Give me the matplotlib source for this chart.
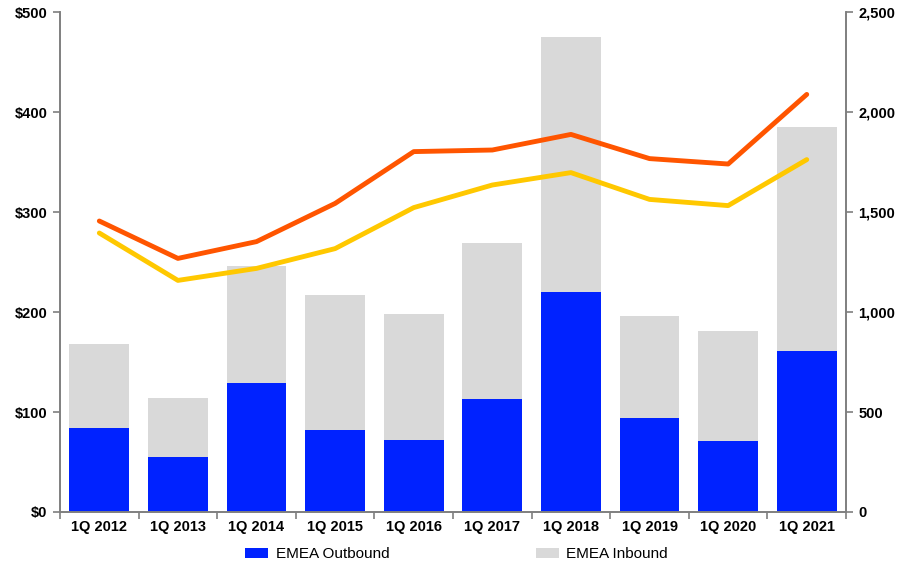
import matplotlib.pyplot as plt
import numpy as np

plt.rcParams['font.family'] = ['Liberation Sans', 'DejaVu Sans']

# values
quarters = ["1Q 2012", "1Q 2013", "1Q 2014", "1Q 2015", "1Q 2016",
            "1Q 2017", "1Q 2018", "1Q 2019", "1Q 2020", "1Q 2021"]
outbound = [84, 55, 129, 82, 72, 113, 220, 94, 71, 161]
totals = [168, 114, 246, 217, 198, 269, 475, 196, 181, 385]
inbound = [t - o for t, o in zip(totals, outbound)]

# right axis lines
line_orange = [1455, 1268, 1352, 1543, 1802, 1810, 1888, 1767, 1740, 2088]
line_yellow = [1395, 1158, 1218, 1317, 1522, 1635, 1697, 1563, 1532, 1762]

blue = "#0022ff"
grey = "#d9d9d9"
orange = "#ff5500"
yellow = "#ffc800"
spine_col = "#7f7f7f"

fig = plt.figure(figsize=(8.97, 5.64), dpi=100)
ax1 = fig.add_axes([0.0669, 0.0922, 0.8763, 0.8865])

x = np.arange(len(quarters))
ax1.bar(x, outbound, width=0.76, color=blue, label="EMEA Outbound")
ax1.bar(x, inbound, width=0.76, bottom=outbound, color=grey, label="EMEA Inbound")

ax1.set_xlim(-0.5, len(quarters) - 0.5)
ax1.set_ylim(0, 500)
ax1.set_yticks(range(0, 501, 100))
ax1.set_yticklabels(["$" + str(v) for v in range(0, 501, 100)])

# x ticks sit between the categories, labels in the middle
ax1.set_xticks(np.arange(-0.5, len(quarters), 1.0))
ax1.set_xticklabels([])
ax1.set_xticks(x, minor=True)
ax1.set_xticklabels(quarters, minor=True)
ax1.tick_params(axis="x", which="minor", length=0, pad=6)
ax1.tick_params(axis="x", which="major", length=5, color=spine_col, width=1.2)
ax1.tick_params(axis="y", length=5, color=spine_col, width=1.2, pad=4)

for lab in ax1.get_xticklabels(minor=True) + ax1.get_yticklabels():
    lab.set_fontweight("bold")
    lab.set_fontsize(10.5)

ax2 = ax1.twinx()
ax2.plot(x, line_orange, color=orange, linewidth=3.5, solid_capstyle="round")
ax2.plot(x, line_yellow, color=yellow, linewidth=3.5, solid_capstyle="round")
ax2.set_ylim(0, 2500)
ax2.set_yticks(range(0, 2501, 500))
ax2.set_yticklabels([f"{v:,}" for v in range(0, 2501, 500)])
ax2.tick_params(axis="y", length=5, color=spine_col, width=1.2, pad=4)
for lab in ax2.get_yticklabels():
    lab.set_fontweight("bold")
    lab.set_fontsize(10.5)

for ax in (ax1, ax2):
    ax.spines["top"].set_visible(False)
    for s in ("left", "right", "bottom"):
        ax.spines[s].set_color(spine_col)
        ax.spines[s].set_linewidth(1.2)

fig.legend(loc="center", bbox_to_anchor=(0.509, 0.017), ncol=2,
           frameon=False, fontsize=11, handlelength=1.5, handleheight=0.55,
           columnspacing=9.6, handletextpad=0.5)

plt.savefig("out.png", dpi=100)
